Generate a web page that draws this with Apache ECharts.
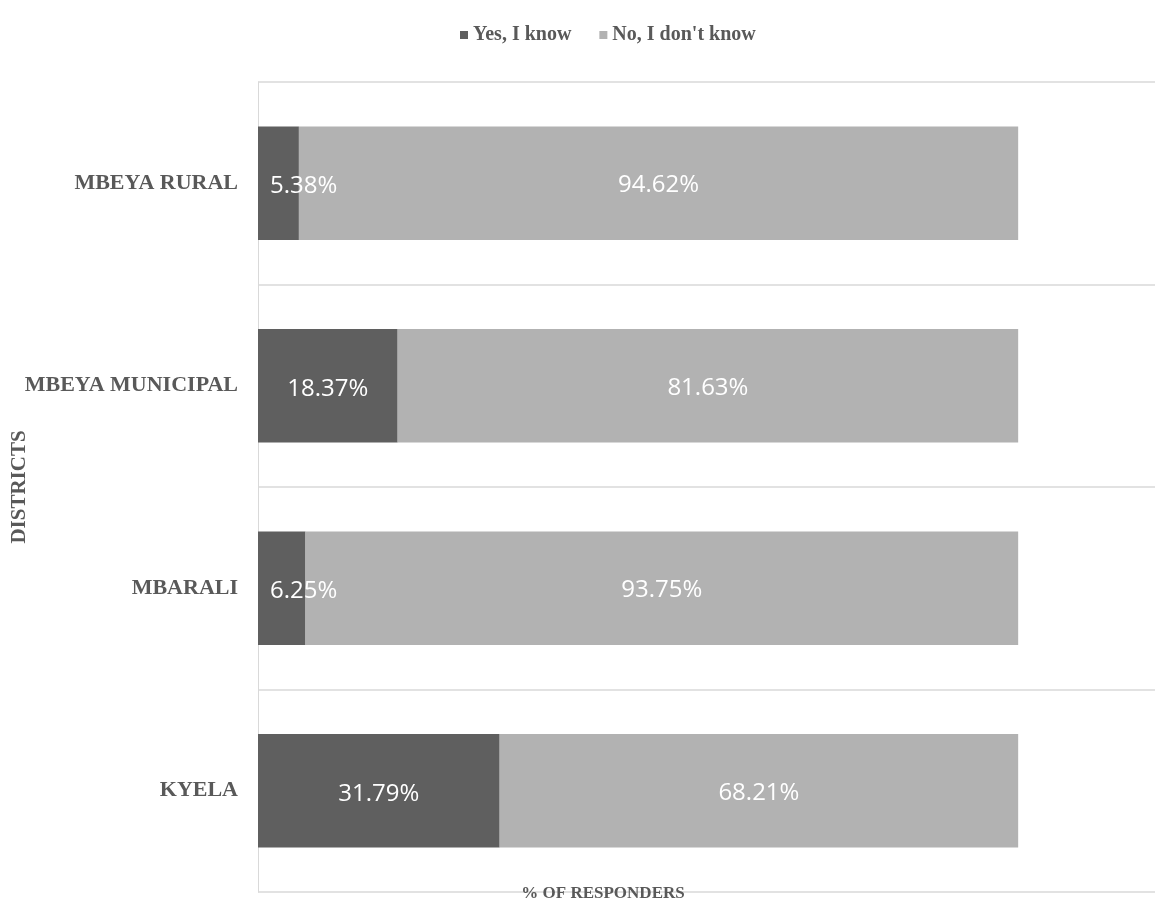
<!DOCTYPE html>
<html lang="en">
<head>
    <meta charset="UTF-8">
    <title>Districts</title>
    <script src="https://cdn.jsdelivr.net/npm/echarts@6/dist/echarts.min.js"></script>
</head>
<body style="margin:0;">
<div id="main" style="width: 1155px; height: 902px;"></div>
</body>
<script>
    // data, top to bottom
    var districts = ['MBEYA RURAL', 'MBEYA MUNICIPAL', 'MBARALI', 'KYELA']
    var yesKnow = [5.38, 18.37, 6.25, 31.79]
    var noKnow = [94.62, 81.63, 93.75, 68.21]

    var textGrey = '#595959'
    var serif = '"Liberation Serif", "DejaVu Serif", serif'

    // small dark segments: Excel pushes the label right so it stays inside the plot
    var yesData = yesKnow.map(function (v) {
        if (v < 10) {
            return {value: v, label: {position: 'insideLeft', distance: 12}}
        }
        return v
    })

    var myChart = echarts.init(document.getElementById('main'))
    var option = {
        backgroundColor: '#fff',
        animation: false,
        title: {
            text: '% OF RESPONDERS',
            left: 603,
            top: 885,
            textAlign: 'center',
            padding: 0,
            textStyle: {
                color: textGrey,
                fontFamily: serif,
                fontWeight: 'bold',
                fontSize: 17
            }
        },
        legend: {
            top: 20,
            left: 455,
            itemWidth: 8,
            itemHeight: 8,
            itemGap: 28,
            icon: 'rect',
            textStyle: {
                color: textGrey,
                fontFamily: serif,
                fontWeight: 'bold',
                fontSize: 20
            },
            data: ['Yes, I know', 'No, I don\'t know']
        },
        grid: {
            left: 258,
            right: 0,
            top: 82,
            bottom: 10,
            outerBoundsMode: 'none',
            containLabel: false
        },
        xAxis: {
            type: 'value',
            min: 0,
            max: 118,
            axisLine: {show: false},
            axisTick: {show: false},
            axisLabel: {show: false},
            splitLine: {show: false}
        },
        yAxis: {
            type: 'category',
            inverse: true,
            data: districts,
            name: 'DISTRICTS',
            nameLocation: 'middle',
            nameGap: 228,
            nameMoveOverlap: false,
            nameRotate: 90,
            nameTextStyle: {
                color: textGrey,
                fontFamily: serif,
                fontWeight: 'bold',
                fontSize: 21
            },
            axisLine: {show: true, lineStyle: {color: '#d9d9d9', width: 1}},
            axisTick: {show: false},
            axisLabel: {
                margin: 20,
                color: textGrey,
                fontFamily: serif,
                fontWeight: 'bold',
                fontSize: 22
            },
            splitLine: {show: true, lineStyle: {color: '#d9d9d9', width: 1.5}}
        },
        series: [
            {
                name: 'Yes, I know',
                type: 'bar',
                stack: 'total',
                barWidth: '56%',
                itemStyle: {color: '#5f5f5f'},
                label: {
                    show: true,
                    position: 'inside',
                    offset: [0, 3],
                    color: '#fff',
                    fontFamily: '"Open Sans", sans-serif',
                    fontSize: 24,
                    formatter: function (p) { return p.value.toFixed(2) + '%' }
                },
                data: yesData
            },
            {
                name: 'No, I don\'t know',
                type: 'bar',
                stack: 'total',
                barWidth: '56%',
                itemStyle: {color: '#b2b2b2'},
                label: {
                    show: true,
                    position: 'inside',
                    offset: [0, 2],
                    color: '#fff',
                    fontFamily: '"Open Sans", sans-serif',
                    fontSize: 24,
                    formatter: function (p) { return p.value.toFixed(2) + '%' }
                },
                data: noKnow
            }
        ]
    };
    myChart.setOption(option);
</script>
</html>
